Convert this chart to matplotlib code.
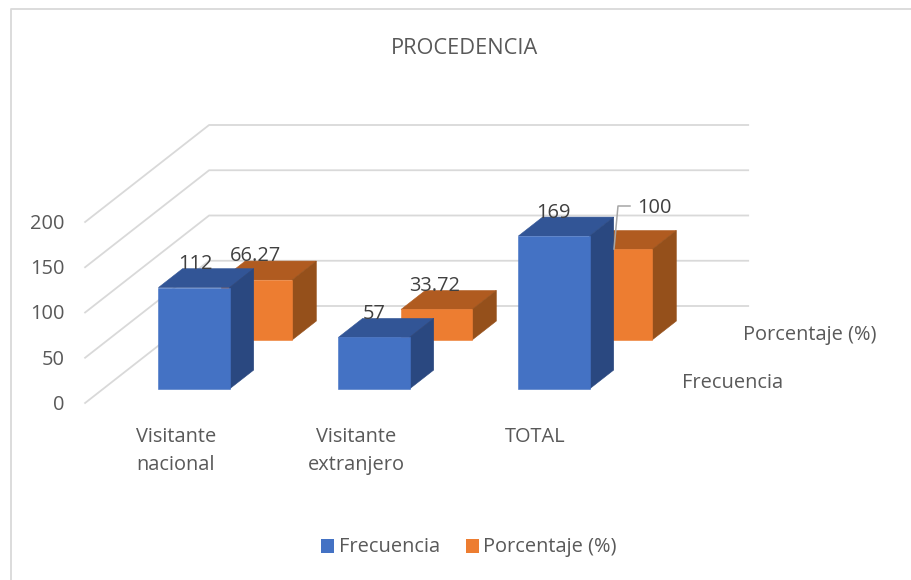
import matplotlib
matplotlib.use("Agg")
import matplotlib.pyplot as plt
from matplotlib.patches import Polygon, Rectangle

plt.rcParams['font.family'] = ['Open Sans', 'DejaVu Sans']

categories = ['Visitante\nnacional', 'Visitante\nextranjero', 'TOTAL']
frecuencia = [112, 57, 169]
porcentaje = [66.27, 33.72, 100]
frec_labels = ['112', '57', '169']
porc_labels = ['66.27', '33.72', '100']
yticks = [0, 50, 100, 150, 200]
series_names = ['Frecuencia', 'Porcentaje (%)']

W, H = 912, 580
# pixel scales of the fake 3d box
PX_CAT = 180.0
PX_VAL = 0.905
X0, Y0 = 176.0, 403.0
DX, DY = 124.0, 97.0
BAR_W = 0.395
TXT = '#595959'
FS = 14.4

fig = plt.figure(figsize=(W / 100, H / 100), dpi=100)
ax = fig.add_axes([0, 0, 1, 1])
ax.set_xlim(-X0 / PX_CAT, (W - X0) / PX_CAT)
ax.set_ylim((Y0 - H) / PX_VAL, Y0 / PX_VAL)
ax.axis('off')


def proj(cat, val, depth=0.0):
    # cat/value plus a depth 0..1 going back into the box
    return (cat + depth * DX / PX_CAT, val + depth * DY / PX_VAL)


def label(px, py, s, **kw):
    # text placed by its position on the picture, +2 because the font sits high
    kw.setdefault('ha', 'center')
    kw.setdefault('va', 'center')
    kw.setdefault('fontsize', FS)
    kw.setdefault('color', TXT)
    fig.text(px / W, 1 - (py + 2) / H, s, zorder=8, **kw)


def bar3d(cat, val, d0, d1, front, top, side, z):
    l, r = cat - BAR_W / 2, cat + BAR_W / 2
    ax.add_patch(Polygon([proj(l, val, d0), proj(r, val, d0), proj(r, val, d1), proj(l, val, d1)],
                         fc=top, ec=top, lw=0.4, zorder=z))
    ax.add_patch(Polygon([proj(r, 0, d0), proj(r, val, d0), proj(r, val, d1), proj(r, 0, d1)],
                         fc=side, ec=side, lw=0.4, zorder=z))
    ax.add_patch(Polygon([proj(l, 0, d0), proj(r, 0, d0), proj(r, val, d0), proj(l, val, d0)],
                         fc=front, ec=front, lw=0.4, zorder=z + 0.1))


# chart frame, only top and left show in the crop
fig.add_artist(plt.Line2D([11 / W, 11 / W, 1], [0, 1 - 9 / H, 1 - 9 / H], color='#d9d9d9', lw=1.3))

# gridlines on side wall and back wall
x_left, x_right = -0.505, 2.49
for v in yticks:
    pts = [proj(x_left, v), proj(x_left, v, 1), proj(x_right, v, 1)]
    ax.plot([p[0] for p in pts], [p[1] for p in pts], color='#d9d9d9', lw=1.3, zorder=2)
    label(65, Y0 - PX_VAL * v, str(v), ha='right')

# back row first, then front row
for i, v in enumerate(porcentaje):
    bar3d(i, v, 0.65, 0.845, '#ed7d31', '#b05b20', '#95501b', 3)
for i, v in enumerate(frecuencia):
    bar3d(i, v, 0.145, 0.34, '#4472c4', '#325596', '#2a4880', 4)

# data labels
frec_pos = [(195, 262), (374, 312), (553, 211)]
porc_pos = [(256, 254), (435, 284), (654, 206)]
for (x, y), s in zip(frec_pos, frec_labels):
    label(x, y, s, color='#404040')
for (x, y), s in zip(porc_pos, porc_labels):
    label(x, y, s, color='#404040')

# leader line for the 100 label
fig.add_artist(plt.Line2D([614 / W, 618 / W, 630 / W], [1 - 249 / H, 1 - 206 / H, 1 - 206 / H],
                          color='#a6a6a6', lw=1.1, zorder=7))

# category labels
cat_pos = [(176, 449), (356, 449), (535, 435)]
for (x, y), c in zip(cat_pos, categories):
    label(x, y, c, linespacing=1.48)

# series names on the depth axis
label(743, 333, series_names[1], ha='left')
label(682, 381, series_names[0], ha='left')

label(465, 46, 'PROCEDENCIA', fontsize=15.7)

# legend
fig.add_artist(Rectangle((321 / W, 1 - 553 / H), 13 / W, 14 / H, fc='#4472c4', ec='none',
                         transform=fig.transFigure))
label(339, 545, series_names[0], ha='left')
fig.add_artist(Rectangle((466 / W, 1 - 553 / H), 13 / W, 14 / H, fc='#ed7d31', ec='none',
                         transform=fig.transFigure))
label(483, 545, series_names[1], ha='left')

fig.savefig('out.png', dpi=100)
